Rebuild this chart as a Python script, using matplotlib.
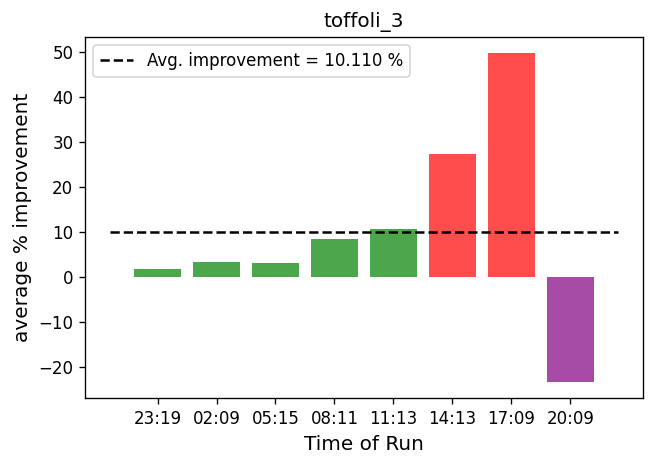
import matplotlib
matplotlib.use("Agg")
import matplotlib.pyplot as plt

# time of each run and improvement (%) per run
runs = ["23:19", "02:09", "05:15", "08:11", "11:13", "14:13", "17:09", "20:09"]
improvement = [1.84, 3.39, 3.17, 8.49, 10.7, 27.3, 49.7, -23.2]
colours = ["green", "green", "green", "green", "green", "red", "red", "purple"]
avg = 10.110

fig, ax = plt.subplots(figsize=(654 / 120, 463 / 120), dpi=120)
x = list(range(len(runs)))
ax.bar(x, improvement, color=colours, alpha=0.7)
ax.hlines(avg, -0.8, len(runs) - 0.2, colors="black", linestyles="--",
          label="Avg. improvement = %.3f %%" % avg)
ax.set_xticks(x)
ax.set_xticklabels(runs)
ax.set_title("toffoli_3")
ax.set_xlabel("Time of Run", fontsize=12)
ax.set_ylabel("average % improvement", fontsize=12)
ax.legend(loc="upper left")
fig.subplots_adjust(left=0.13, right=0.983, top=0.92, bottom=0.14)
fig.savefig("out.png", dpi=120)
